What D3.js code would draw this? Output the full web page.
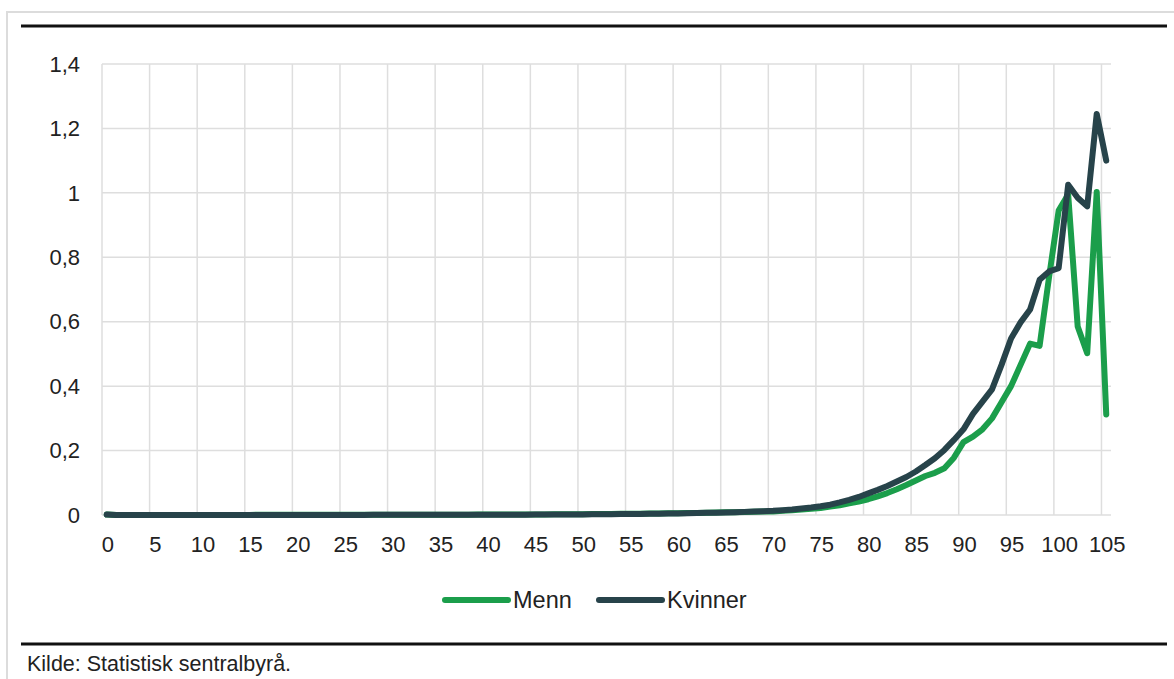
<!DOCTYPE html>
<html>
<head>
<meta charset="utf-8">
<script src="https://cdn.jsdelivr.net/npm/d3@7"></script>
<style>
  html, body { margin: 0; padding: 0; background: #fff; }
  svg text { font-family: "Liberation Sans", Arial, sans-serif; fill: #222; }
</style>
</head>
<body>
<svg id="chart" width="1174" height="679"></svg>
<script>
// alder 0-105
const ages = d3.range(0, 106);

// Menn
const menn = [
  0.0015, 0.0002, 0.0001, 0.0001, 0.0001,
  0.0001, 0.0001, 0.0001, 0.0001, 0.0001,
  0.0001, 0.0001, 0.0001, 0.0002, 0.0002,
  0.0003, 0.0005, 0.0007, 0.0008, 0.0009,
  0.0009, 0.0009, 0.0009, 0.0009, 0.0009,
  0.0008, 0.0008, 0.0008, 0.0008, 0.0008,
  0.0008, 0.0008, 0.0008, 0.0009, 0.0009,
  0.0009, 0.0010, 0.0010, 0.0011, 0.0012,
  0.0012, 0.0013, 0.0014, 0.0015, 0.0016,
  0.0018, 0.0019, 0.0020, 0.0022, 0.0024,
  0.0026, 0.0028, 0.0030, 0.0032, 0.0035,
  0.0038, 0.0041, 0.0044, 0.0048, 0.0052,
  0.0056, 0.0060, 0.0065, 0.0070, 0.0076,
  0.0082, 0.0088, 0.0094, 0.0100, 0.0105,
  0.011, 0.013, 0.015, 0.017, 0.019,
  0.022, 0.026, 0.030, 0.036, 0.042,
  0.049, 0.058, 0.068, 0.080, 0.093,
  0.107, 0.121, 0.131, 0.145, 0.178,
  0.226, 0.243, 0.266, 0.300, 0.350,
  0.400, 0.466, 0.532, 0.525, 0.740,
  0.945, 0.995, 0.585, 0.502, 1.003, 0.312
];

// Kvinner
const kvinner = [
  0.0013, 0.0002, 0.0001, 0.0001, 0.0001,
  0.0001, 0.0001, 0.0001, 0.0001, 0.0001,
  0.0001, 0.0001, 0.0001, 0.0001, 0.0002,
  0.0002, 0.0002, 0.0003, 0.0003, 0.0003,
  0.0003, 0.0003, 0.0003, 0.0003, 0.0003,
  0.0003, 0.0003, 0.0003, 0.0004, 0.0004,
  0.0004, 0.0004, 0.0004, 0.0005, 0.0005,
  0.0005, 0.0006, 0.0006, 0.0007, 0.0007,
  0.0008, 0.0008, 0.0009, 0.0010, 0.0011,
  0.0012, 0.0013, 0.0014, 0.0016, 0.0017,
  0.0019, 0.0021, 0.0023, 0.0025, 0.0028,
  0.0031, 0.0034, 0.0037, 0.0041, 0.0045,
  0.0050, 0.0055, 0.0060, 0.0066, 0.0073,
  0.0080, 0.0088, 0.0097, 0.0107, 0.0118,
  0.013, 0.015, 0.017, 0.020, 0.023,
  0.027, 0.032, 0.039, 0.047, 0.056,
  0.067, 0.078, 0.090, 0.104, 0.118,
  0.135, 0.155, 0.176, 0.202, 0.233,
  0.266, 0.314, 0.352, 0.390, 0.466,
  0.548, 0.598, 0.638, 0.730, 0.756,
  0.766, 1.025, 0.985, 0.958, 1.245, 1.100
];

const yTicks = [0, 0.2, 0.4, 0.6, 0.8, 1, 1.2, 1.4];
const xTickAges = ages.filter(a => a % 5 === 0);

const serier = [
  { navn: "Menn", verdier: menn, farge: "#1b9e4b" },
  { navn: "Kvinner", verdier: kvinner, farge: "#27434a" }
];

const svg = d3.select("#chart");
const width = +svg.attr("width");

// ramme og linjer
svg.append("rect")
  .attr("x", 7).attr("y", 12)
  .attr("width", width + 20).attr("height", 700)
  .attr("fill", "none")
  .attr("stroke", "#dcdcdc")
  .attr("stroke-width", 2);

svg.append("line")
  .attr("x1", 21).attr("x2", 1167).attr("y1", 26).attr("y2", 26)
  .attr("stroke", "#111").attr("stroke-width", 3);

svg.append("line")
  .attr("x1", 21).attr("x2", 1167).attr("y1", 644).attr("y2", 644)
  .attr("stroke", "#111").attr("stroke-width", 3);

// skalaer
const x = d3.scaleBand().domain(ages).range([102, 1111]).padding(0);
const y = d3.scaleLinear().domain([0, 1.4]).range([515, 64]);
const cx = a => x(a) + x.bandwidth() / 2;

const no = d3.formatLocale({ decimal: ",", thousands: " ", grouping: [3], currency: ["", " kr"] });
const fmt = v => no.format("~g")(v);

// rutenett
const grid = svg.append("g").attr("class", "grid");
grid.selectAll("line.h")
  .data(yTicks)
  .join("line")
  .attr("class", "h")
  .attr("x1", 102).attr("x2", 1111)
  .attr("y1", d => y(d)).attr("y2", d => y(d))
  .attr("stroke", "#dedede").attr("stroke-width", 1.5);

grid.selectAll("line.v")
  .data(xTickAges)
  .join("line")
  .attr("class", "v")
  .attr("x1", d => x(d)).attr("x2", d => x(d))
  .attr("y1", y(1.4)).attr("y2", y(0))
  .attr("stroke", "#dedede").attr("stroke-width", 1.5);

// aksetekster
svg.append("g").selectAll("text")
  .data(yTicks)
  .join("text")
  .attr("x", 80)
  .attr("y", d => y(d))
  .attr("dy", "0.35em")
  .attr("text-anchor", "end")
  .attr("font-size", 22)
  .text(d => fmt(d));

svg.append("g").selectAll("text")
  .data(xTickAges)
  .join("text")
  .attr("x", d => cx(d) + 1)
  .attr("y", 552)
  .attr("text-anchor", "middle")
  .attr("font-size", 22)
  .text(d => d);

// linjer
const line = d3.line()
  .x((d, i) => cx(ages[i]))
  .y(d => y(d));

svg.append("g").selectAll("path")
  .data(serier)
  .join("path")
  .attr("d", d => line(d.verdier))
  .attr("fill", "none")
  .attr("stroke", d => d.farge)
  .attr("stroke-width", 6)
  .attr("stroke-linejoin", "round")
  .attr("stroke-linecap", "round");

// tegnforklaring
const legend = svg.append("g").attr("transform", "translate(445,600)");
const leg = legend.selectAll("g")
  .data(serier)
  .join("g")
  .attr("transform", (d, i) => `translate(${i * 154},0)`);

leg.append("line")
  .attr("x1", 0).attr("x2", 63)
  .attr("stroke", d => d.farge)
  .attr("stroke-width", 6)
  .attr("stroke-linecap", "round");

leg.append("text")
  .attr("x", 68)
  .attr("dy", "0.35em")
  .attr("font-size", 23.5)
  .text(d => d.navn);

// kilde
svg.append("text")
  .attr("x", 27).attr("y", 671)
  .attr("font-size", 21.5)
  .text("Kilde: Statistisk sentralbyrå.");
</script>
</body>
</html>
